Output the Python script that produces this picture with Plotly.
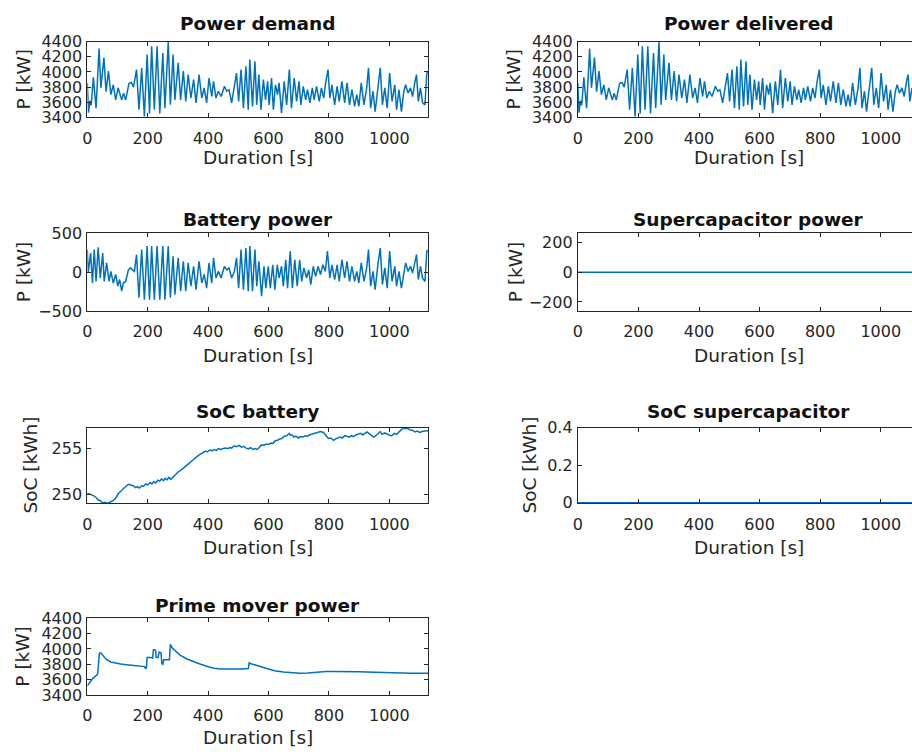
import plotly.graph_objects as go

# ---------------- data ----------------
t_demand = [0, 4, 9, 13, 20, 29, 39, 45, 55, 62, 70, 78, 86, 94, 102, 114, 120, 127, 138, 146, 153,
            163, 171, 180, 189, 198, 206, 213, 222, 231, 240, 250, 257, 268, 275, 284, 290, 301, 309,
            318, 326, 334, 343, 352, 360, 370, 379, 387, 395, 403, 412, 418, 426, 434, 443, 454, 462,
            469, 478, 487, 494, 501, 509, 517, 525, 533, 538, 547, 555, 561, 568, 575, 583, 590, 597,
            602, 610, 616, 623, 630, 635, 643, 652, 660, 669, 676, 685, 693, 701, 707, 715, 723, 729,
            737, 745, 751, 759, 768, 775, 783, 789, 797, 803, 810, 819, 827, 834, 843, 852, 860, 868,
            876, 885, 892, 899, 907, 916, 925, 931, 938, 946, 953, 962, 970, 977, 985, 993, 1001, 1009,
            1018, 1024, 1032, 1040, 1048, 1054, 1062, 1070, 1077, 1085, 1090, 1096, 1103, 1110, 1118,
            1124, 1128]
p_demand = [3850, 3460, 3620, 3560, 3930, 3520, 4310, 3790, 4190, 3740, 4010, 3700, 3830, 3630, 3790,
            3630, 3720, 3630, 3850, 3860, 3800, 4030, 3500, 4050, 3410, 4230, 3450, 4340, 3500, 4340,
            3450, 4250, 3520, 4400, 3565, 4230, 3630, 4120, 3630, 4010, 3610, 3965, 3655, 3900, 3590,
            3965, 3655, 3790, 3590, 3920, 3675, 3875, 3655, 3745, 3675, 3810, 3745, 3765, 3590, 3810,
            3985, 3610, 4030, 3520, 4075, 3500, 4165, 3545, 4140, 3565, 3965, 3500, 3900, 3630, 3875,
            3565, 3920, 3500, 3830, 3700, 3855, 3455, 3875, 3565, 4030, 3520, 3920, 3610, 3875, 3565,
            3810, 3630, 3765, 3590, 3790, 3630, 3810, 3610, 3790, 3655, 3855, 4030, 3655, 3830, 3565,
            3810, 3610, 3875, 3590, 3855, 3565, 3765, 3545, 3700, 3545, 3855, 3565, 3790, 4055, 3520,
            3745, 3475, 3830, 4055, 3565, 3790, 3520, 3985, 3610, 3830, 3500, 3765, 3475, 3745, 3830,
            3720, 3790, 3675, 3875, 3965, 3610, 3790, 3590, 3565, 3985, 3990]

t_delivered = list(t_demand)
p_delivered = list(p_demand)

t_battery = [0, 3, 11, 17, 23, 29, 36, 43, 51, 56, 64, 72, 78, 86, 94, 101, 107, 114, 119, 127, 136,
             143, 149, 156, 163, 171, 180, 189, 198, 206, 213, 222, 231, 240, 250, 257, 268, 275, 284,
             290, 301, 309, 318, 326, 334, 343, 352, 360, 370, 379, 387, 395, 403, 412, 418, 426, 434,
             443, 454, 462, 469, 478, 487, 494, 501, 509, 517, 525, 533, 538, 547, 555, 561, 568, 577,
             585, 591, 599, 606, 614, 621, 629, 635, 643, 649, 657, 663, 672, 679, 687, 695, 703, 710,
             717, 726, 733, 740, 748, 756, 764, 772, 780, 788, 795, 803, 810, 819, 827, 834, 843, 852,
             860, 868, 876, 885, 892, 899, 907, 916, 925, 931, 938, 946, 953, 962, 970, 977, 985, 993,
             1001, 1009, 1018, 1024, 1032, 1040, 1048, 1054, 1062, 1070, 1077, 1085, 1090, 1096, 1103,
             1110, 1118, 1124, 1128]
p_battery = [290, -10, 245, -140, 290, -120, 320, -75, 245, -120, 120, -120, 10, -140, -30, -180, -95,
             -245, -140, -120, 30, 55, 30, 10, 225, -330, 290, -355, 335, -355, 335, -355, 335, -355,
             335, -355, 335, -330, 205, -290, 185, -245, 140, -245, 120, -180, 75, -225, 140, -140,
             -30, -205, 120, -140, 185, -75, 10, -75, 75, 30, 55, -75, 10, 185, -205, 290, -225, 310,
             -245, 335, -245, 290, -180, 140, -310, 75, -205, 75, -205, 95, -225, 95, -75, 75, -180,
             160, -205, 270, -205, 160, -180, 160, -120, 55, -75, 30, -160, 75, -55, 75, -30, 95, 10,
             270, -75, 95, -95, 95, -120, 160, -75, 140, -120, 75, -120, 10, -140, 120, -120, 55, 290,
             -180, 10, -225, 95, 310, -160, 55, -205, 270, -120, 75, -180, 10, -205, 10, 120, 10, 75,
             -10, 120, 225, -95, 75, -75, -120, 270, 280]

t_soc = [0, 8, 15, 22, 30, 36, 42, 50, 58, 65, 72, 80, 86, 95, 103, 111, 119, 128, 136, 144, 152, 160,
         166, 172, 180, 186, 194, 200, 208, 214, 220, 226, 234, 240, 246, 252, 258, 264, 270, 276, 285,
         292, 301, 310, 318, 326, 334, 346, 356, 368, 378, 390, 398, 406, 412, 420, 428, 434, 442, 450,
         456, 466, 472, 478, 486, 494, 502, 511, 518, 526, 533, 541, 548, 555, 562, 570, 577, 585, 592,
         600, 608, 615, 622, 630, 637, 644, 652, 660, 668, 672, 677, 684, 690, 699, 706, 714, 721, 729,
         736, 743, 751, 758, 765, 772, 782, 790, 798, 806, 815, 822, 830, 837, 844, 852, 859, 866, 874,
         881, 888, 896, 904, 912, 918, 926, 932, 940, 948, 955, 963, 970, 976, 984, 992, 1000, 1008,
         1016, 1024, 1030, 1038, 1046, 1052, 1060, 1068, 1076, 1085, 1092, 1101, 1108, 1118, 1128]
soc_battery = [250.1, 250.0, 249.95, 249.8, 249.6, 249.35, 249.3, 249.05, 249.1, 249.0, 249.05, 249.15,
               249.3, 249.6, 250.05, 250.3, 250.6, 250.85, 251.05, 250.95, 250.9, 250.7, 250.8, 250.65,
               250.9, 250.85, 251.1, 251.0, 251.25, 251.1, 251.35, 251.2, 251.5, 251.4, 251.65, 251.45,
               251.7, 251.55, 251.8, 251.6, 251.9, 252.1, 252.4, 252.6, 252.85, 253.0, 253.25, 253.6,
               253.9, 254.2, 254.4, 254.65, 254.6, 254.8, 254.7, 254.85, 254.75, 254.95, 254.85, 254.9,
               255.0, 254.95, 255.05, 255.0, 255.25, 255.15, 255.3, 255.1, 255.2, 255.0, 254.9, 255.05,
               254.85, 254.95, 254.85, 255.1, 255.35, 255.3, 255.45, 255.4, 255.55, 255.5, 255.8,
               255.85, 256.0, 256.05, 256.3, 256.35, 256.6, 256.4, 256.45, 256.2, 256.3, 256.1, 256.25,
               256.2, 256.35, 256.3, 256.45, 256.5, 256.6, 256.7, 256.75, 256.8, 256.7, 256.4, 256.05,
               256.1, 255.85, 256.0, 256.1, 256.2, 256.1, 256.35, 256.3, 256.2, 256.35, 256.25, 256.4,
               256.5, 256.6, 256.45, 256.55, 256.75, 256.6, 256.4, 256.2, 256.35, 256.6, 256.8, 256.5,
               256.65, 256.55, 256.4, 256.35, 256.6, 256.5, 256.7, 256.95, 257.2, 257.1, 257.15, 257.0,
               256.95, 256.75, 256.85, 256.7, 256.8, 256.85, 256.9]

t_prime = [0, 9, 18, 25, 34, 37, 40, 44, 52, 64, 78, 92, 110, 130, 150, 174, 190, 193, 196, 198, 210,
           216, 219, 226, 228, 234, 238, 244, 247, 250, 253, 272, 275, 282, 295, 307, 330, 351, 375, 395,
           420, 440, 465, 484, 510, 533, 536, 540, 550, 570, 594, 620, 649, 680, 704, 730, 760, 790, 815,
           850, 870, 900, 925, 960, 980, 1010, 1035, 1070, 1100, 1128]
p_prime = [3520, 3575, 3615, 3640, 3670, 3800, 3945, 3950, 3910, 3860, 3830, 3815, 3805, 3795, 3785,
           3775, 3770, 3740, 3760, 3890, 3890, 3880, 3990, 3985, 3890, 3890, 3960, 3950, 3810, 3800,
           3860, 3860, 4060, 4010, 3960, 3920, 3870, 3835, 3800, 3775, 3750, 3740, 3738, 3735, 3740,
           3745, 3820, 3810, 3800, 3775, 3745, 3715, 3700, 3690, 3685, 3688, 3700, 3705, 3705, 3708,
           3710, 3703, 3700, 3695, 3690, 3688, 3685, 3683, 3683, 3683]

t_sc = [0, 1128]
p_sc = [0, 0]
soc_sc = [0, 0]

titles = ["Power demand", "Power delivered", "Battery power", "Supercapacitor power",
          "SoC battery", "SoC supercapacitor", "Prime mover power"]
ylabels = ["P [kW]", "P [kW]", "P [kW]", "P [kW]", "SoC [kWh]", "SoC [kWh]", "P [kW]"]
xlabel = "Duration [s]"
x_ticks = [0, 200, 400, 600, 800, 1000]
p_ticks = [3400, 3600, 3800, 4000, 4200, 4400]
batt_ticks = [-500, 0, 500]
sc_ticks = [-200, 0, 200]
soc_ticks = [250, 255]
socsc_ticks = [0, 0.2, 0.4]

# ---------------- layout geometry (pixels) ----------------
W, H = 912, 756
FONT = "DejaVu Sans"
AX = "#262626"
BLUE = "#0072BD"

def px(x):
    return x / W

def py(y):
    return 1 - y / H

left_dom = [px(87.3), px(428)]
right_dom = [px(577.8), 1.0]
rows = [(41.7, 117.3), (233.3, 311), (427.7, 503.4), (618.3, 695)]

fig = go.Figure()

series = [
    (t_demand, p_demand), (t_delivered, p_delivered), (t_battery, p_battery), (t_sc, p_sc),
    (t_soc, soc_battery), (t_sc, soc_sc), (t_prime, p_prime),
]
for i, (tx, vy) in enumerate(series):
    n = "" if i == 0 else str(i + 1)
    fig.add_trace(go.Scatter(x=tx, y=vy, mode="lines", line=dict(color=BLUE, width=1.5),
                             xaxis="x" + n, yaxis="y" + n, showlegend=False, hoverinfo="skip"))

specs = [
    ("L", 0, [3400, 4400], p_ticks),
    ("R", 0, [3400, 4400], p_ticks),
    ("L", 1, [-500, 500], batt_ticks),
    ("R", 1, [-261, 261], sc_ticks),
    ("L", 2, [248.98, 257.22], soc_ticks),
    ("R", 2, [-0.003, 0.4], socsc_ticks),
    ("L", 3, [3400, 4400], p_ticks),
]

tickfont = dict(family=FONT, size=16, color=AX)
layout = dict(width=W, height=H,
              margin=dict(l=0, r=0, t=0, b=0, pad=0, autoexpand=False),
              paper_bgcolor="white", plot_bgcolor="white", showlegend=False)
annotations = []
for i, (col, row, yr, yt) in enumerate(specs):
    n = "" if i == 0 else str(i + 1)
    top, bot = rows[row]
    xdom = left_dom if col == "L" else right_dom
    xmax = 1128 if col == "L" else (W - 577.8) / 0.303
    layout["xaxis" + n] = dict(domain=xdom, range=[0, xmax], anchor="y" + n, tickvals=x_ticks,
                               ticks="inside", ticklen=4, tickwidth=1, tickcolor=AX,
                               showline=True, linecolor=AX, linewidth=1, mirror="ticks",
                               showgrid=False, zeroline=False, tickfont=tickfont,
                               ticklabelstandoff=6, automargin=False)
    layout["yaxis" + n] = dict(domain=[py(bot), py(top)], range=yr, anchor="x" + n, tickvals=yt,
                               ticks="inside", ticklen=4, tickwidth=1, tickcolor=AX,
                               showline=True, linecolor=AX, linewidth=1,
                               mirror="ticks" if col == "L" else False,
                               showgrid=False, zeroline=False, tickfont=tickfont,
                               ticklabelstandoff=1, automargin=False)
    cx = (87.3 + 428) / 2 if col == "L" else 748.5
    title_y = [23.3, 219, 411, 604.5][row]
    xlab_y = [155.5, 354, 546, 736][row]
    annotations.append(dict(text="<b>" + titles[i] + "</b>", x=px(cx), y=py(title_y + 0.5),
                            xref="paper", yref="paper", xanchor="center", yanchor="middle",
                            showarrow=False, font=dict(family=FONT, size=18.5, color="#111111")))
    annotations.append(dict(text=xlabel, x=px(cx), y=py(xlab_y + 1.5), xref="paper", yref="paper",
                            xanchor="center", yanchor="middle", showarrow=False,
                            font=dict(family=FONT, size=18.5, color=AX)))
    if col == "L":
        ylx = 31 if "SoC" in ylabels[i] else 23
    else:
        ylx = [513, 515, 530][row]
    annotations.append(dict(text=ylabels[i], x=px(ylx), y=py((top + bot) / 2), xref="paper",
                            yref="paper", xanchor="center", yanchor="middle", textangle=-90,
                            showarrow=False, font=dict(family=FONT, size=18.5, color=AX)))

layout["annotations"] = annotations
fig.update_layout(**layout)
fig.write_html("out.html")
